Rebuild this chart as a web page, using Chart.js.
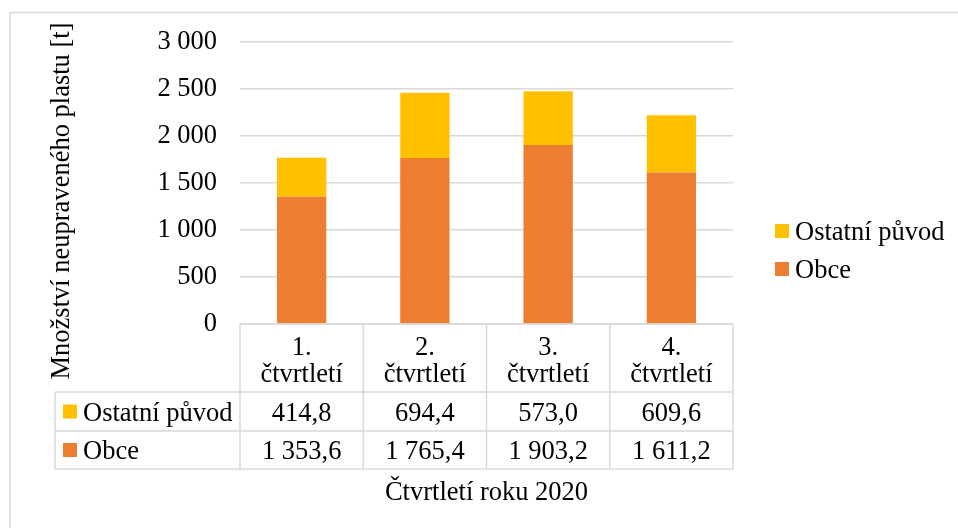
<!DOCTYPE html>
<html>
<head>
<meta charset="utf-8">
<script src="https://cdn.jsdelivr.net/npm/chart.js@4.4.1/dist/chart.umd.min.js"></script>
<style>
html,body{margin:0;padding:0;background:#fff;}
#wrap{position:relative;width:958px;height:528px;}
</style>
</head>
<body>
<div id="wrap"><canvas id="c" width="958" height="528"></canvas></div>
<script>
const categories = ["1. čtvrtletí", "2. čtvrtletí", "3. čtvrtletí", "4. čtvrtletí"];
const categoryLines = [["1.", "čtvrtletí"], ["2.", "čtvrtletí"], ["3.", "čtvrtletí"], ["4.", "čtvrtletí"]];
const obce = [1353.6, 1765.4, 1903.2, 1611.2];
const ostatni = [414.8, 694.4, 573.0, 609.6];
const seriesNames = ["Obce", "Ostatní původ"];
const seriesColors = ["#ED7D31", "#FFC000"];
const yTicks = [0, 500, 1000, 1500, 2000, 2500, 3000];
const yTitle = "Množství neupraveného plastu [t]";
const xTitle = "Čtvrtletí roku 2020";

const FONT = "'Liberation Serif', 'Times New Roman', serif";
const FS = 26.5;
const GRID = "#D9D9D9";

function fmtInt(v) {
  return String(Math.round(v)).replace(/\B(?=(\d{3})+(?!\d))/g, " ");
}
function fmtDec(v) {
  const s = v.toFixed(1).split(".");
  return s[0].replace(/\B(?=(\d{3})+(?!\d))/g, " ") + "," + s[1];
}

const tablePlugin = {
  id: "tablePlugin",
  afterDraw(chart) {
    const ctx = chart.ctx;
    const ca = chart.chartArea;
    const xs = chart.scales.x;
    const n = categories.length;
    const cw = (ca.right - ca.left) / n;
    const tableLeft = 55;
    const yTop = ca.bottom;
    const yHead = 392, yR1 = 431, yR2 = 469;

    ctx.save();
    // outer frame
    ctx.strokeStyle = GRID;
    ctx.lineWidth = 1.5;
    ctx.beginPath();
    ctx.moveTo(10, 529); ctx.lineTo(10, 12.5); ctx.lineTo(959, 12.5);
    ctx.stroke();

    // table lines
    ctx.strokeStyle = GRID;
    ctx.lineWidth = 1.5;
    ctx.beginPath();
    ctx.moveTo(ca.left, yTop); ctx.lineTo(ca.right, yTop);
    [yHead, yR1, yR2].forEach(y => { ctx.moveTo(tableLeft, y); ctx.lineTo(ca.right, y); });
    ctx.moveTo(tableLeft, yHead); ctx.lineTo(tableLeft, yR2);
    for (let i = 0; i <= n; i++) {
      const x = ca.left + i * cw;
      ctx.moveTo(x, yTop); ctx.lineTo(x, yR2);
    }
    ctx.stroke();

    ctx.fillStyle = "#000";
    ctx.font = FS + "px " + FONT;
    ctx.textAlign = "center";
    ctx.textBaseline = "alphabetic";
    // header
    for (let i = 0; i < n; i++) {
      const cx = xs.getPixelForValue(i);
      ctx.fillText(categoryLines[i][0], cx, 355);
      ctx.fillText(categoryLines[i][1], cx, 382);
    }
    // rows: top row = Ostatní, bottom = Obce
    const rows = [
      { name: seriesNames[1], color: seriesColors[1], data: ostatni, yc: (yHead + yR1) / 2 },
      { name: seriesNames[0], color: seriesColors[0], data: obce, yc: (yR1 + yR2) / 2 }
    ];
    rows.forEach(r => {
      ctx.fillStyle = r.color;
      ctx.fillRect(63, r.yc - 7, 14, 14);
      ctx.fillStyle = "#000";
      ctx.textAlign = "left";
      ctx.fillText(r.name, 83, r.yc + 9);
      ctx.textAlign = "center";
      for (let i = 0; i < n; i++) {
        ctx.fillText(fmtDec(r.data[i]), xs.getPixelForValue(i), r.yc + 9);
      }
    });

    // x title
    ctx.textAlign = "center";
    ctx.fillText(xTitle, (ca.left + ca.right) / 2, 500);

    // y title
    ctx.save();
    ctx.translate(69, 201);
    ctx.rotate(-Math.PI / 2);
    ctx.textAlign = "center";
    ctx.fillText(yTitle, 0, 0);
    ctx.restore();

    // legend (right)
    const leg = [
      { name: seriesNames[1], color: seriesColors[1], yc: 231 },
      { name: seriesNames[0], color: seriesColors[0], yc: 269 }
    ];
    leg.forEach(l => {
      ctx.fillStyle = l.color;
      ctx.fillRect(775, l.yc - 7, 14, 14);
      ctx.fillStyle = "#000";
      ctx.textAlign = "left";
      ctx.fillText(l.name, 795, l.yc + 9);
    });
    ctx.restore();
  }
};

new Chart(document.getElementById("c"), {
  type: "bar",
  data: {
    labels: categories,
    datasets: [
      { label: seriesNames[0], data: obce, backgroundColor: seriesColors[0], borderWidth: 0 },
      { label: seriesNames[1], data: ostatni, backgroundColor: seriesColors[1], borderWidth: 0 }
    ]
  },
  options: {
    responsive: false,
    animation: false,
    devicePixelRatio: 1,
    layout: { padding: { top: 42, right: 225, bottom: 0, left: 0 } },
    plugins: { legend: { display: false }, tooltip: { enabled: false } },
    datasets: { bar: { categoryPercentage: 1, barPercentage: 0.4 } },
    scales: {
      x: {
        stacked: true,
        grid: { display: false },
        border: { display: false },
        ticks: { display: false },
        afterFit(s) { s.height = 204; }
      },
      y: {
        stacked: true,
        min: 0,
        max: 3000,
        afterBuildTicks(s) { s.ticks = yTicks.map(v => ({ value: v })); },
        ticks: {
          stepSize: 500,
          padding: 23,
          color: "#000",
          font: { family: FONT, size: FS },
          callback: v => fmtInt(v)
        },
        grid: { color: GRID, lineWidth: 1.5, drawTicks: false },
        border: { display: false },
        afterFit(s) { s.width = 240; }
      }
    }
  },
  plugins: [tablePlugin]
});
</script>
</body>
</html>
